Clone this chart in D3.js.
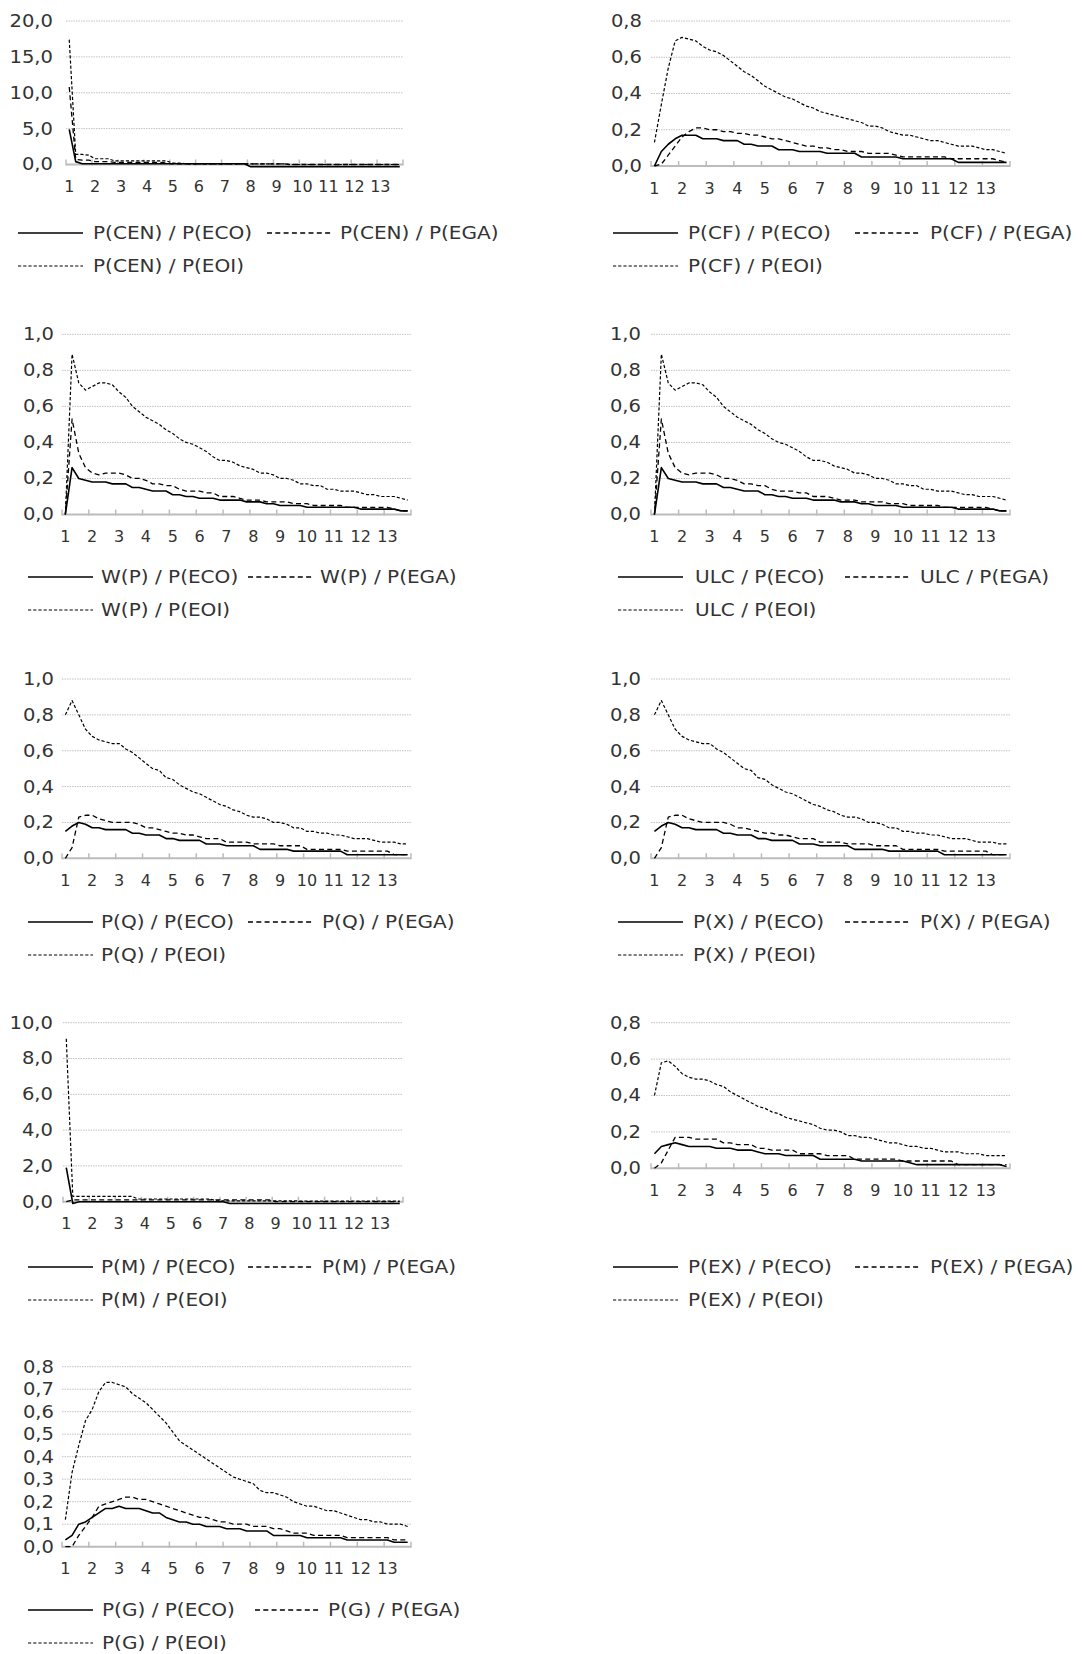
<!DOCTYPE html>
<html>
<head>
<meta charset="UTF-8">
<script src="https://cdn.jsdelivr.net/npm/d3@7"></script>
<style>
  html, body { margin: 0; padding: 0; background: #fff; }
  svg { display: block; font-family: "DejaVu Sans", sans-serif; }
</style>
</head>
<body>
<svg id="chart" width="1083" height="1654"></svg>
<script>
// 52 quarterly steps, labelled by year 1..13
var yearLabels = ["1","2","3","4","5","6","7","8","9","10","11","12","13"];
var shockNames = ["P(ECO)", "P(EGA)", "P(EOI)"];

// P(CEN)
var cenEco = [4.9,0.4,0.1,0.1, 0.1,0.1,0.1,0.1, 0.1,0.1,0.1,0.1, 0.1,0.1,0.1,0.1, 0.1,0.1,0.1,0.1, 0.1,0.1,0.1,0.1, 0.1,0.1,0.1,0.1,
  -0.3,-0.3,-0.3,-0.3, -0.3,-0.3,-0.3,-0.3, -0.3,-0.3,-0.3,-0.3, -0.3,-0.3,-0.3,-0.3, -0.3,-0.3,-0.3,-0.3, -0.3,-0.3,-0.3,-0.3];
var cenEga = [10.8,0.7,0.6,0.6, 0.4,0.4,0.4,0.3, 0.3,0.3,0.3,0.3, 0.3,0.3,0.3,0.2, 0.1,0.1,0.1,0.1, 0.1,0.1,0.1,0.1, 0.1,0.1,0.1,0.1,
  0.1,0.1,0.1,0.1, 0.1,0.1,0.0,0.0, 0.0,0.0,0.0,0.0, 0.0,0.0,0.0,0.0, 0.0,0.0,0.0,0.0, 0.0,0.0,0.0,0.0];
var cenEoi = [17.4,1.4,1.4,1.3, 0.8,0.8,0.8,0.5, 0.5,0.5,0.5,0.5, 0.5,0.5,0.5,0.5, 0.2,0.2,0.1,0.1, 0.1,0.1,0.1,0.1, 0.1,0.1,0.1,0.1,
  0.1,0.1,0.1,0.1, 0.1,0.1,0.0,0.0, 0.0,0.0,0.0,0.0, 0.0,0.0,0.0,0.0, 0.0,0.0,0.0,0.0, 0.0,0.0,0.0,0.0];

// P(CF)
var cfEco = [0.00,0.08,0.12,0.15, 0.17,0.17,0.17,0.15, 0.15,0.15,0.14,0.14, 0.14,0.12,0.12,0.11, 0.11,0.11,0.09,0.09, 0.09,0.08,0.08,0.08,
  0.08,0.07,0.07,0.07, 0.07,0.07,0.05,0.05, 0.05,0.05,0.05,0.05, 0.04,0.04,0.04,0.04, 0.04,0.04,0.04,0.04, 0.02,0.02,0.02,0.02, 0.02,0.02,0.02,0.02];
var cfEga = [0.00,0.01,0.06,0.11, 0.16,0.19,0.21,0.21, 0.20,0.20,0.19,0.19, 0.18,0.18,0.17,0.17, 0.16,0.15,0.15,0.14, 0.13,0.12,0.11,0.11,
  0.10,0.10,0.09,0.09, 0.08,0.08,0.08,0.07, 0.07,0.07,0.07,0.06, 0.05,0.05,0.05,0.05, 0.05,0.05,0.05,0.04, 0.04,0.04,0.04,0.04, 0.04,0.04,0.03,0.02];
var cfEoi = [0.13,0.34,0.54,0.69, 0.71,0.70,0.69,0.66, 0.64,0.63,0.61,0.58, 0.55,0.52,0.50,0.47, 0.44,0.42,0.40,0.38, 0.37,0.35,0.33,0.32,
  0.30,0.29,0.28,0.27, 0.26,0.25,0.24,0.22, 0.22,0.21,0.19,0.18, 0.17,0.17,0.16,0.15, 0.14,0.14,0.13,0.12, 0.11,0.11,0.11,0.10, 0.09,0.09,0.08,0.07];

// W(P)
var wpEco = [0.00,0.26,0.20,0.19, 0.18,0.18,0.18,0.17, 0.17,0.17,0.15,0.15, 0.14,0.13,0.13,0.13, 0.11,0.11,0.10,0.10, 0.09,0.09,0.09,0.08,
  0.08,0.08,0.08,0.07, 0.07,0.07,0.06,0.06, 0.05,0.05,0.05,0.05, 0.04,0.04,0.04,0.04, 0.04,0.04,0.04,0.04, 0.03,0.03,0.03,0.03, 0.03,0.03,0.02,0.02];
var wpEga = [0.00,0.53,0.34,0.26, 0.23,0.22,0.23,0.23, 0.23,0.22,0.20,0.20, 0.19,0.17,0.17,0.16, 0.16,0.14,0.13,0.13, 0.13,0.12,0.12,0.10,
  0.10,0.10,0.09,0.08, 0.08,0.08,0.07,0.07, 0.07,0.07,0.06,0.06, 0.06,0.05,0.05,0.05, 0.05,0.05,0.04,0.04, 0.04,0.04,0.04,0.04, 0.04,0.03,0.02,0.02];
var wpEoi = [0.00,0.89,0.73,0.69, 0.71,0.73,0.73,0.72, 0.68,0.65,0.60,0.57, 0.54,0.52,0.50,0.47, 0.45,0.42,0.40,0.39, 0.37,0.35,0.32,0.30,
  0.30,0.29,0.27,0.26, 0.25,0.23,0.23,0.22, 0.20,0.20,0.19,0.17, 0.17,0.16,0.16,0.14, 0.14,0.13,0.13,0.13, 0.12,0.11,0.11,0.10, 0.10,0.10,0.09,0.08];

// ULC
var ulcEco = [0.00,0.26,0.20,0.19, 0.18,0.18,0.18,0.17, 0.17,0.17,0.15,0.15, 0.14,0.13,0.13,0.13, 0.11,0.11,0.10,0.10, 0.09,0.09,0.09,0.08,
  0.08,0.08,0.08,0.07, 0.07,0.07,0.06,0.06, 0.05,0.05,0.05,0.05, 0.04,0.04,0.04,0.04, 0.04,0.04,0.04,0.04, 0.03,0.03,0.03,0.03, 0.03,0.03,0.02,0.02];
var ulcEga = [0.00,0.53,0.34,0.26, 0.23,0.22,0.23,0.23, 0.23,0.22,0.20,0.20, 0.19,0.17,0.17,0.16, 0.16,0.14,0.13,0.13, 0.13,0.12,0.12,0.10,
  0.10,0.10,0.09,0.08, 0.08,0.08,0.07,0.07, 0.07,0.07,0.06,0.06, 0.06,0.05,0.05,0.05, 0.05,0.05,0.04,0.04, 0.04,0.04,0.04,0.04, 0.04,0.03,0.02,0.02];
var ulcEoi = [0.00,0.89,0.73,0.69, 0.71,0.73,0.73,0.72, 0.68,0.65,0.60,0.57, 0.54,0.52,0.50,0.47, 0.45,0.42,0.40,0.39, 0.37,0.35,0.32,0.30,
  0.30,0.29,0.27,0.26, 0.25,0.23,0.23,0.22, 0.20,0.20,0.19,0.17, 0.17,0.16,0.16,0.14, 0.14,0.13,0.13,0.13, 0.12,0.11,0.11,0.10, 0.10,0.10,0.09,0.08];

// P(Q)
var pqEco = [0.15,0.18,0.20,0.19, 0.17,0.17,0.16,0.16, 0.16,0.16,0.14,0.14, 0.13,0.13,0.13,0.11, 0.11,0.10,0.10,0.10, 0.10,0.08,0.08,0.08,
  0.07,0.07,0.07,0.07, 0.07,0.05,0.05,0.05, 0.05,0.05,0.04,0.04, 0.04,0.04,0.04,0.04, 0.04,0.04,0.02,0.02, 0.02,0.02,0.02,0.02, 0.02,0.02,0.02,0.02];
var pqEga = [0.00,0.06,0.23,0.24, 0.24,0.22,0.21,0.20, 0.20,0.20,0.20,0.19, 0.17,0.17,0.16,0.15, 0.14,0.14,0.13,0.13, 0.12,0.11,0.11,0.11,
  0.09,0.09,0.09,0.09, 0.08,0.08,0.08,0.08, 0.07,0.07,0.07,0.07, 0.05,0.05,0.05,0.05, 0.05,0.05,0.04,0.04, 0.04,0.04,0.04,0.04, 0.04,0.02,0.02,0.02];
var pqEoi = [0.80,0.88,0.80,0.72, 0.68,0.66,0.65,0.64, 0.64,0.61,0.59,0.56, 0.53,0.50,0.49,0.45, 0.44,0.41,0.39,0.37, 0.36,0.34,0.32,0.30,
  0.29,0.27,0.26,0.24, 0.23,0.23,0.22,0.20, 0.20,0.19,0.17,0.17, 0.15,0.15,0.14,0.14, 0.13,0.13,0.12,0.11, 0.11,0.11,0.10,0.09, 0.09,0.09,0.08,0.08];

// P(X)
var pxEco = [0.15,0.18,0.20,0.19, 0.17,0.17,0.16,0.16, 0.16,0.16,0.14,0.14, 0.13,0.13,0.13,0.11, 0.11,0.10,0.10,0.10, 0.10,0.08,0.08,0.08,
  0.07,0.07,0.07,0.07, 0.07,0.05,0.05,0.05, 0.05,0.05,0.04,0.04, 0.04,0.04,0.04,0.04, 0.04,0.04,0.02,0.02, 0.02,0.02,0.02,0.02, 0.02,0.02,0.02,0.02];
var pxEga = [0.00,0.06,0.23,0.24, 0.24,0.22,0.21,0.20, 0.20,0.20,0.20,0.19, 0.17,0.17,0.16,0.15, 0.14,0.14,0.13,0.13, 0.12,0.11,0.11,0.11,
  0.09,0.09,0.09,0.09, 0.08,0.08,0.08,0.08, 0.07,0.07,0.07,0.07, 0.05,0.05,0.05,0.05, 0.05,0.05,0.04,0.04, 0.04,0.04,0.04,0.04, 0.04,0.02,0.02,0.02];
var pxEoi = [0.80,0.88,0.80,0.72, 0.68,0.66,0.65,0.64, 0.64,0.61,0.59,0.56, 0.53,0.50,0.49,0.45, 0.44,0.41,0.39,0.37, 0.36,0.34,0.32,0.30,
  0.29,0.27,0.26,0.24, 0.23,0.23,0.22,0.20, 0.20,0.19,0.17,0.17, 0.15,0.15,0.14,0.14, 0.13,0.13,0.12,0.11, 0.11,0.11,0.10,0.09, 0.09,0.09,0.08,0.08];

// P(M)
var pmEco = [1.9,-0.1,0.0,0.0, 0.0,0.0,0.0,0.0, 0.0,0.0,0.0,0.0, 0.0,0.0,0.0,0.0, 0.0,0.0,0.0,0.0, 0.0,0.0,0.0,0.0, 0.0,-0.1,-0.1,-0.1,
  -0.1,-0.1,-0.1,-0.1, -0.1,-0.1,-0.1,-0.1, -0.1,-0.1,-0.1,-0.1, -0.1,-0.1,-0.1,-0.1, -0.1,-0.1,-0.1,-0.1, -0.1,-0.1,-0.1,-0.1];
var pmEga = [0.0,0.1,0.1,0.1, 0.1,0.1,0.1,0.1, 0.1,0.1,0.1,0.1, 0.1,0.1,0.1,0.1, 0.1,0.1,0.1,0.1, 0.1,0.1,0.1,0.1, 0.1,0.1,0.1,0.1,
  0.1,0.1,0.1,0.1, 0.0,0.0,0.0,0.0, 0.0,0.0,0.0,0.0, 0.0,0.0,0.0,0.0, 0.0,0.0,0.0,0.0, 0.0,0.0,0.0,0.0];
var pmEoi = [9.1,0.3,0.3,0.3, 0.3,0.3,0.3,0.3, 0.3,0.3,0.3,0.15, 0.15,0.15,0.15,0.15, 0.15,0.15,0.15,0.15, 0.15,0.15,0.15,0.05,
  0.05,0.05,0.05,0.05, 0.05,0.05,0.05,0.05, 0.05,0.05,0.05,0.05, 0.03,0.03,0.03,0.03, 0.03,0.03,0.03,0.03, 0.03,0.03,0.03,0.03, 0.03,0.03,0.03,0.03];

// P(EX)
var pexEco = [0.08,0.12,0.13,0.14, 0.13,0.12,0.12,0.12, 0.12,0.11,0.11,0.11, 0.10,0.10,0.10,0.09, 0.08,0.08,0.08,0.07, 0.07,0.07,0.07,0.07,
  0.05,0.05,0.05,0.05, 0.05,0.05,0.04,0.04, 0.04,0.04,0.04,0.04, 0.04,0.03,0.02,0.02, 0.02,0.02,0.02,0.02, 0.02,0.02,0.02,0.02, 0.02,0.02,0.02,0.01];
var pexEga = [0.00,0.03,0.10,0.17, 0.17,0.17,0.16,0.16, 0.16,0.16,0.14,0.14, 0.13,0.13,0.13,0.11, 0.11,0.10,0.10,0.10, 0.10,0.08,0.08,0.08,
  0.08,0.07,0.07,0.07, 0.07,0.05,0.05,0.05, 0.05,0.05,0.05,0.05, 0.04,0.04,0.04,0.04, 0.04,0.04,0.04,0.04, 0.02,0.02,0.02,0.02, 0.02,0.02,0.02,0.02];
var pexEoi = [0.40,0.58,0.59,0.56, 0.52,0.50,0.49,0.49, 0.48,0.46,0.45,0.42, 0.40,0.38,0.36,0.34, 0.33,0.31,0.30,0.28, 0.27,0.26,0.25,0.24,
  0.22,0.21,0.21,0.20, 0.18,0.18,0.17,0.17, 0.16,0.15,0.14,0.14, 0.13,0.12,0.12,0.11, 0.11,0.10,0.09,0.09, 0.09,0.08,0.08,0.08, 0.07,0.07,0.07,0.07];

// P(G)
var pgEco = [0.03,0.05,0.10,0.11, 0.13,0.15,0.17,0.17, 0.18,0.17,0.17,0.17, 0.16,0.15,0.15,0.13, 0.12,0.11,0.11,0.10, 0.10,0.09,0.09,0.09,
  0.08,0.08,0.08,0.07, 0.07,0.07,0.07,0.05, 0.05,0.05,0.05,0.05, 0.04,0.04,0.04,0.04, 0.04,0.04,0.03,0.03, 0.03,0.03,0.03,0.03, 0.03,0.02,0.02,0.02];
var pgEga = [0.00,0.00,0.05,0.09, 0.13,0.18,0.19,0.20, 0.21,0.22,0.22,0.21, 0.21,0.20,0.19,0.18, 0.17,0.16,0.15,0.14, 0.13,0.13,0.12,0.11,
  0.11,0.10,0.10,0.10, 0.09,0.09,0.09,0.08, 0.08,0.07,0.06,0.06, 0.06,0.05,0.05,0.05, 0.05,0.05,0.04,0.04, 0.04,0.04,0.04,0.04, 0.04,0.03,0.03,0.03];
var pgEoi = [0.12,0.33,0.45,0.56, 0.61,0.69,0.73,0.73, 0.72,0.71,0.68,0.66, 0.64,0.61,0.58,0.55, 0.51,0.47,0.45,0.43, 0.41,0.39,0.37,0.35,
  0.33,0.31,0.30,0.29, 0.28,0.25,0.24,0.24, 0.23,0.22,0.20,0.19, 0.18,0.18,0.17,0.16, 0.16,0.15,0.14,0.13, 0.12,0.12,0.11,0.11, 0.10,0.10,0.10,0.09];

// panel layout (pixels on the page)
var panels = [
  { prefix: "P(CEN)", series: [cenEco, cenEga, cenEoi], max: 20, step: 5,   left: 66,  right: 403,  top: 21,     zero: 164.5,  labelRight: 53,  legY: 233,  legLine: [18, 267],  legText: [93, 340] },
  { prefix: "P(CF)",  series: [cfEco, cfEga, cfEoi],    max: 0.8, step: 0.2, left: 651, right: 1010, top: 21,     zero: 166,    labelRight: 642, legY: 233,  legLine: [613, 855], legText: [688, 930] },
  { prefix: "W(P)",   series: [wpEco, wpEga, wpEoi],    max: 1,  step: 0.2,  left: 62,  right: 411,  top: 334.3,  zero: 514.5,  labelRight: 54,  legY: 577,  legLine: [28, 248],  legText: [101, 320] },
  { prefix: "ULC",    series: [ulcEco, ulcEga, ulcEoi], max: 1,  step: 0.2,  left: 651, right: 1010, top: 334.3,  zero: 514.5,  labelRight: 641, legY: 577,  legLine: [618, 845], legText: [695, 920] },
  { prefix: "P(Q)",   series: [pqEco, pqEga, pqEoi],    max: 1,  step: 0.2,  left: 62,  right: 411,  top: 679,    zero: 858.3,  labelRight: 54,  legY: 922,  legLine: [28, 248],  legText: [101, 322] },
  { prefix: "P(X)",   series: [pxEco, pxEga, pxEoi],    max: 1,  step: 0.2,  left: 651, right: 1010, top: 679,    zero: 858.3,  labelRight: 641, legY: 922,  legLine: [618, 845], legText: [693, 920] },
  { prefix: "P(M)",   series: [pmEco, pmEga, pmEoi],    max: 10, step: 2,    left: 63,  right: 403,  top: 1022.7, zero: 1201.7, labelRight: 53,  legY: 1267, legLine: [28, 248],  legText: [101, 322] },
  { prefix: "P(EX)",  series: [pexEco, pexEga, pexEoi], max: 0.8, step: 0.2, left: 651, right: 1010, top: 1022.7, zero: 1168.3, labelRight: 641, legY: 1267, legLine: [613, 855], legText: [688, 930] },
  { prefix: "P(G)",   series: [pgEco, pgEga, pgEoi],    max: 0.8, step: 0.1, left: 62,  right: 411,  top: 1366.7, zero: 1546.7, labelRight: 54,  legY: 1610, legLine: [28, 255],  legText: [102, 328] }
];

var lineStyles = [
  { dash: null,      width: 1.6 },
  { dash: "5,3.3",   width: 1.3 },
  { dash: "3.2,2",   width: 1.2 }
];

var textColor = "#333";
var axisColor = "#bcbcbc";
var fmt = d3.formatLocale({ decimal: ",", thousands: ".", grouping: [3], currency: ["", ""] }).format(".1f");
var svg = d3.select("#chart");

panels.forEach(function(p) {
  var g = svg.append("g");
  var nPts = p.series[0].length;

  var x = d3.scaleBand().domain(d3.range(nPts)).range([p.left, p.right]);
  var y = d3.scaleLinear().domain([0, p.max]).range([p.zero, p.top]);
  var yTicks = d3.range(0, p.max + p.step / 2, p.step);

  // dotted gridlines
  g.selectAll(".grid").data(yTicks.slice(1)).enter().append("line")
    .attr("x1", p.left).attr("x2", p.right)
    .attr("y1", function(d) { return y(d); }).attr("y2", function(d) { return y(d); })
    .attr("stroke", "#c2c2c2").attr("stroke-width", 1).attr("stroke-dasharray", "1.5,1");

  // y labels
  g.selectAll(".ylab").data(yTicks).enter().append("text")
    .attr("transform", function(d) { return "translate(" + p.labelRight + "," + y(d) + ") scale(1.15,1)"; })
    .attr("dy", "0.35em").attr("text-anchor", "end")
    .attr("font-size", 17).attr("fill", textColor)
    .text(function(d) { return fmt(d); });

  // category axis: line, tick marks every 4 quarters, year labels
  g.append("line")
    .attr("x1", p.left).attr("x2", p.right)
    .attr("y1", y(0)).attr("y2", y(0))
    .attr("stroke", axisColor).attr("stroke-width", 2);

  var tickIdx = d3.range(0, nPts + 1, 4);
  g.selectAll(".tick").data(tickIdx).enter().append("line")
    .attr("x1", function(i) { return p.left + i * x.step(); })
    .attr("x2", function(i) { return p.left + i * x.step(); })
    .attr("y1", y(0) - 5).attr("y2", y(0) + 1)
    .attr("stroke", axisColor).attr("stroke-width", 1.5);

  g.selectAll(".xlab").data(yearLabels).enter().append("text")
    .attr("x", function(d, k) { return x(k * 4) + x.bandwidth() / 2; })
    .attr("y", y(0) + 22).attr("dy", "0.35em")
    .attr("text-anchor", "middle").attr("font-size", 16).attr("fill", textColor)
    .text(function(d) { return d; });

  // series lines
  var line = d3.line()
    .x(function(d, i) { return x(i) + x.bandwidth() / 2; })
    .y(function(d) { return y(d); });

  p.series.forEach(function(vals, s) {
    g.append("path")
      .datum(vals)
      .attr("d", line)
      .attr("fill", "none")
      .attr("stroke", "#000")
      .attr("stroke-width", lineStyles[s].width)
      .attr("stroke-dasharray", lineStyles[s].dash)
      .attr("stroke-linejoin", "round");
  });

  // legend: two entries on the first row, one on the second
  var legPos = [
    { lx: p.legLine[0], tx: p.legText[0], y: p.legY },
    { lx: p.legLine[1], tx: p.legText[1], y: p.legY },
    { lx: p.legLine[0], tx: p.legText[0], y: p.legY + 33 }
  ];
  shockNames.forEach(function(name, s) {
    var pos = legPos[s];
    g.append("line")
      .attr("x1", pos.lx).attr("x2", pos.lx + 65)
      .attr("y1", pos.y).attr("y2", pos.y)
      .attr("stroke", "#000")
      .attr("stroke-width", lineStyles[s].width)
      .attr("stroke-dasharray", lineStyles[s].dash);
    g.append("text")
      .attr("transform", "translate(" + pos.tx + "," + pos.y + ") scale(1.18,1)")
      .attr("dy", "0.35em").attr("font-size", 17).attr("fill", textColor)
      .text(p.prefix + " / " + name);
  });
});
</script>
</body>
</html>
